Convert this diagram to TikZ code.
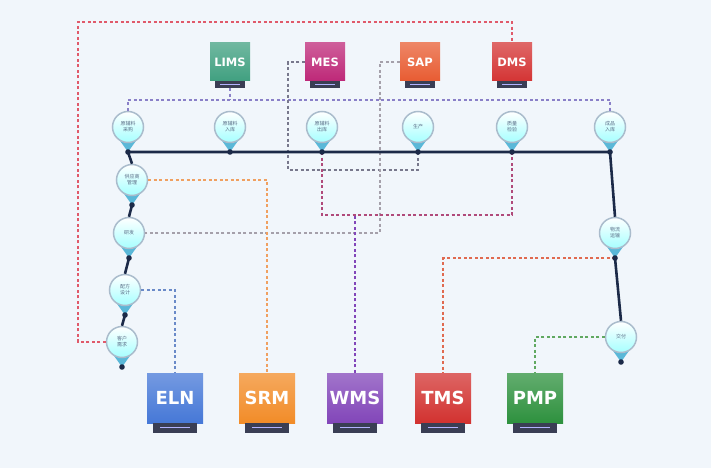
\documentclass[tikz,border=0pt]{standalone}
\usepackage{fontspec}
\usepackage{xcolor}
\newfontfamily\cjk{Noto Sans CJK SC}
\newfontfamily\sysfont{DejaVu Sans}

\definecolor{bgc}{RGB}{241,246,251}
\definecolor{ringc}{RGB}{170,188,204}
\definecolor{pintext}{RGB}{90,110,135}
\definecolor{tipc}{RGB}{90,184,216}
\definecolor{navy}{RGB}{28,42,72}
\definecolor{basec}{RGB}{58,62,84}
\definecolor{limsc}{RGB}{64,160,128}
\definecolor{mesc}{RGB}{190,40,120}
\definecolor{sapc}{RGB}{232,92,50}
\definecolor{dmsc}{RGB}{212,52,52}
\definecolor{elnc}{RGB}{70,120,215}
\definecolor{srmc}{RGB}{242,140,40}
\definecolor{wmsc}{RGB}{130,70,185}
\definecolor{tmsc}{RGB}{210,50,48}
\definecolor{pmpc}{RGB}{46,145,62}
\definecolor{busc}{RGB}{138,128,200}
\definecolor{redc}{RGB}{224,90,106}
\definecolor{grayc}{RGB}{120,120,140}
\definecolor{sapline}{RGB}{165,160,170}
\definecolor{loopc}{RGB}{176,74,122}
\definecolor{srmline}{RGB}{240,160,96}
\definecolor{elnline}{RGB}{106,138,200}
\definecolor{tmsline}{RGB}{224,106,80}
\definecolor{pmpline}{RGB}{96,168,96}

\tikzset{
  bubble/.style={circle, minimum size=31pt, inner sep=0pt, draw=ringc, line width=1.5pt,
    top color=white, bottom color=cyan!35, text=pintext, align=center,
    font=\cjk\fontsize{5}{6}\selectfont},
  topsys/.style={minimum width=40pt, minimum height=38pt, inner sep=0pt, text=white,
    top color=#1!75!white, bottom color=#1, font=\sysfont\bfseries\fontsize{11.5}{13}\selectfont},
  botsys/.style={minimum width=56pt, minimum height=50pt, inner sep=0pt, text=white,
    top color=#1!75!white, bottom color=#1, font=\sysfont\bfseries\fontsize{18}{20}\selectfont},
  link/.style={draw=#1, line width=1.2pt, dash pattern=on 3pt off 2.5pt},
  mainline/.style={draw=navy, line width=2.6pt}
}

\begin{document}
\begin{tikzpicture}[x=1pt, y=-1pt]
    \fill[bgc] (0,0) rectangle (711,468);
    \useasboundingbox (0,0) rectangle (711,468);

    \node[topsys=limsc] (LIMS) at (230,62) {LIMS};
    \node[topsys=mesc] (MES) at (325,62) {MES};
    \node[topsys=sapc] (SAP) at (420,62) {SAP};
    \node[topsys=dmsc] (DMS) at (512,62) {DMS};
    \foreach \n in {LIMS,MES,SAP,DMS} {
        \fill[basec] ([xshift=-15pt]\n.south) rectangle ([xshift=15pt,yshift=-7pt]\n.south);
        \draw[white!70!blue, line width=0.8pt] ([xshift=-10pt,yshift=-3pt]\n.south) -- ([xshift=10pt,yshift=-3pt]\n.south);
        \coordinate (\n-b) at ([yshift=-7pt]\n.south);
    }

    \node[botsys=elnc] (ELN) at (175,398) {ELN};
    \node[botsys=srmc] (SRM) at (267,398) {SRM};
    \node[botsys=wmsc] (WMS) at (355,398) {WMS};
    \node[botsys=tmsc] (TMS) at (443,398) {TMS};
    \node[botsys=pmpc] (PMP) at (535,398) {PMP};
    \foreach \n in {ELN,SRM,WMS,TMS,PMP} {
        \fill[basec] ([xshift=-22pt]\n.south) rectangle ([xshift=22pt,yshift=-10pt]\n.south);
        \draw[white!70!blue, line width=1pt] ([xshift=-15pt,yshift=-4pt]\n.south) -- ([xshift=15pt,yshift=-4pt]\n.south);
    }

    \foreach \n/\x/\y/\t in {T1/128/127/{原辅料\\采购}, T2/230/127/{原辅料\\入库},
        T3/322/127/{原辅料\\出库}, T4/418/127/{生产}, T5/512/127/{质量\\检验},
        T6/610/127/{成品\\入库}, L1/132/180/{供应商\\管理}, L2/129/233/{研发},
        L3/125/290/{配方\\设计}, L4/122/342/{客户\\需求}, R1/615/233/{物流\\运输},
        R2/621/337/{交付}} {
        \fill[tipc] ({\x-10},{\y+11}) -- ({\x+10},{\y+11}) -- (\x,{\y+25}) -- cycle;
        \node[bubble] (\n) at (\x,\y) {\t};
        \coordinate (\n-t) at (\x,{\y+25});
    }

    \coordinate (bus) at (128,100);
    \coordinate (redturn) at (78,22);
    \coordinate (mesturn) at (288,170);
    \coordinate (sapturn) at (380,233);
    \coordinate (loopturn) at (322,215);

    \draw[link=busc] (T1.north) -- (bus) -| (T6.north);
    \draw[link=busc] (LIMS-b) -- (LIMS-b |- bus);
    \draw[link=redc] (L4.west) -| (redturn) -| (DMS.north);
    \draw[link=grayc] (MES.west) -| (mesturn) -| (T4-t);
    \draw[link=sapline] (SAP.west) -| (sapturn) -- (L2.east);
    \draw[link=loopc] (T3-t) -- (loopturn) -| (T5-t);
    \draw[link=wmsc] (WMS.north) -- (WMS.north |- loopturn);
    \draw[link=srmline] (L1.east) -| (SRM.north);
    \draw[link=elnline] (L3.east) -| (ELN.north);
    \draw[link=tmsline] (R1-t) -| (TMS.north);
    \draw[link=pmpline] (R2.west) -| (PMP.north);

    \draw[mainline] (T1-t) -- (T6-t) -- (R1.north);
    \draw[mainline] (R1-t) -- (R2.north);
    \draw[mainline] (T1-t) -- (L1.north);
    \draw[mainline] (L1-t) -- (L2.north);
    \draw[mainline] (L2-t) -- (L3.north);
    \draw[mainline] (L3-t) -- (L4.north);

    \foreach \n in {T1,T2,T3,T4,T5,T6,L1,L2,L3,L4,R1,R2}
        \fill[navy] (\n-t) circle (2.8pt);
\end{tikzpicture}
\end{document}
